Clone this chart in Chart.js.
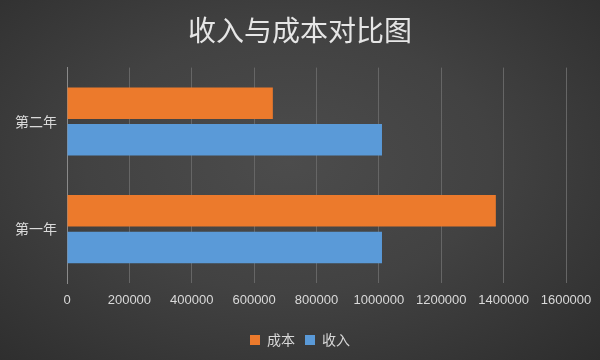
<!DOCTYPE html>
<html>
<head>
<meta charset="utf-8">
<script src="https://cdn.jsdelivr.net/npm/chart.js@4"></script>
<style>
  html, body { margin: 0; padding: 0; }
  #wrap {
    width: 600px; height: 360px; position: relative;
    background: radial-gradient(ellipse 75% 80% at 48% 45%, #4c4c4c 0%, #424242 45%, #2c2c2c 100%);
  }
</style>
</head>
<body>
<div id="wrap"><canvas id="c" width="600" height="360"></canvas></div>
<script>
const categories = ['第二年', '第一年'];
const costValues = [660000, 1375000];
const incomeValues = [1010000, 1010000];
const seriesNames = ['成本', '收入'];
const titleText = '收入与成本对比图';
const xTicks = [0, 200000, 400000, 600000, 800000, 1000000, 1200000, 1400000, 1600000];

const textColor = '#d9d9d9';

new Chart(document.getElementById('c'), {
  type: 'bar',
  data: {
    labels: categories,
    datasets: [
      { label: seriesNames[0], data: costValues, backgroundColor: '#ec7a2c', borderWidth: 0 },
      { label: seriesNames[1], data: incomeValues, backgroundColor: '#5a9ad8', borderWidth: 0 }
    ]
  },
  options: {
    indexAxis: 'y',
    responsive: false,
    animation: false,
    categoryPercentage: 0.68,
    barPercentage: 0.86,
    layout: { padding: { top: 14, right: 0, bottom: 3, left: 0 } },
    plugins: {
      title: {
        display: true,
        text: titleText,
        color: '#e6e6e6',
        font: { family: '"Noto Sans CJK SC", sans-serif', size: 28, weight: 'normal', lineHeight: 1.2 },
        padding: { top: 0, bottom: 20 }
      },
      legend: {
        position: 'bottom',
        labels: {
          color: textColor,
          boxWidth: 10,
          boxHeight: 10,
          padding: 10,
          font: { family: '"Noto Sans CJK SC", serif', size: 14 }
        }
      },
      tooltip: { enabled: false }
    },
    scales: {
      x: {
        min: 0,
        max: 1600000,
        afterBuildTicks: (s) => { s.ticks = xTicks.map(v => ({ value: v })); },
        afterFit: (s) => { s.height = 40; s.paddingRight = 34; },
        border: { display: false },
        grid: { color: '#666666', lineWidth: 1, drawTicks: false },
        ticks: {
          color: textColor,
          padding: 10,
          maxRotation: 0,
          autoSkip: false,
          callback: (v) => String(v),
          font: { family: '"Liberation Sans", sans-serif', size: 13 }
        }
      },
      y: {
        afterFit: (s) => { s.width = 67; },
        border: { display: true, color: '#8a8a8a', width: 1 },
        grid: { display: false, drawTicks: false },
        ticks: {
          color: textColor,
          padding: 10,
          font: { family: '"Noto Sans CJK SC", serif', size: 14 }
        }
      }
    }
  }
});
</script>
</body>
</html>
